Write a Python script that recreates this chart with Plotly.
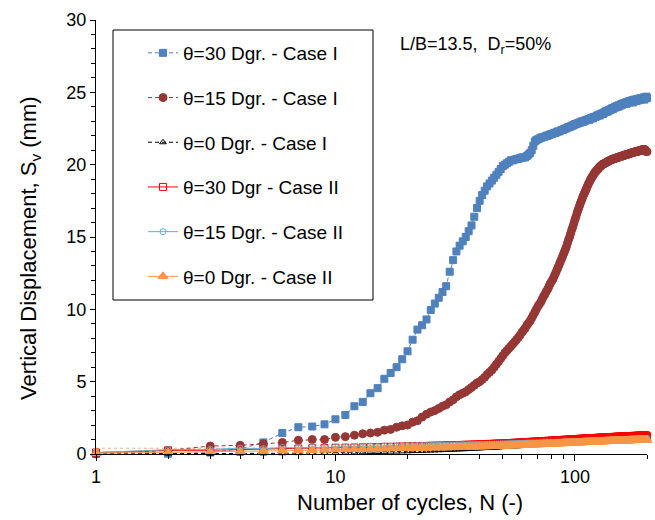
import plotly.graph_objects as go

# Number of cycles
N = list(range(1, 201))

# theta=30 Dgr. - Case I
s30_c1 = [
    0.00, 0.02, 0.10, 0.35, 0.80, 1.45, 1.85, 1.90, 2.05, 2.40,
    2.70, 3.30, 3.60, 4.20, 4.55, 5.20, 5.60, 6.00, 6.55, 7.10,
    7.90, 8.60, 8.90, 9.30, 9.95, 10.40, 10.80, 11.20, 11.60, 12.60,
    13.40, 14.00, 14.40, 14.70, 15.00, 15.40, 15.80, 16.40, 17.00, 17.50,
    17.90, 18.20, 18.50, 18.70, 18.90, 19.10, 19.30, 19.50, 19.70, 19.90,
    20.00, 20.10, 20.20, 20.30, 20.30, 20.35, 20.40, 20.40, 20.45, 20.50,
    20.50, 20.50, 20.60, 20.70, 20.80, 21.00, 21.30, 21.60, 21.70, 21.75,
    21.80, 21.85, 21.90, 21.90, 21.95, 22.00, 22.00, 22.05, 22.10, 22.10,
    22.15, 22.20, 22.20, 22.25, 22.30, 22.30, 22.35, 22.40, 22.40, 22.45,
    22.50, 22.50, 22.55, 22.60, 22.60, 22.65, 22.70, 22.70, 22.75, 22.80,
    22.80, 22.85, 22.85, 22.90, 22.90, 22.95, 23.00, 22.95, 23.00, 23.05,
    23.05, 23.10, 23.10, 23.15, 23.10, 23.20, 23.20, 23.25, 23.20, 23.30,
    23.30, 23.30, 23.35, 23.40, 23.40, 23.45, 23.40, 23.50, 23.50, 23.55,
    23.50, 23.60, 23.60, 23.65, 23.70, 23.65, 23.70, 23.75, 23.80, 23.75,
    23.80, 23.85, 23.90, 23.85, 23.90, 23.95, 24.00, 23.95, 24.00, 24.05,
    24.00, 24.10, 24.05, 24.10, 24.15, 24.10, 24.20, 24.15, 24.20, 24.25,
    24.20, 24.25, 24.30, 24.20, 24.30, 24.35, 24.30, 24.35, 24.40, 24.30,
    24.35, 24.40, 24.45, 24.40, 24.30, 24.45, 24.50, 24.40, 24.45, 24.50,
    24.40, 24.50, 24.55, 24.45, 24.50, 24.55, 24.50, 24.60, 24.50, 24.55,
    24.60, 24.55, 24.60, 24.65, 24.50, 24.60, 24.65, 24.60, 24.70, 24.60,
]

# theta=15 Dgr. - Case I
s15_c1 = [
    0.00, 0.25, 0.55, 0.60, 0.70, 0.80, 0.95, 1.00, 1.00, 1.15,
    1.20, 1.30, 1.40, 1.45, 1.50, 1.65, 1.70, 1.85, 1.95, 2.00,
    2.20, 2.30, 2.55, 2.75, 2.90, 3.00, 3.15, 3.30, 3.40, 3.60,
    3.75, 3.95, 4.10, 4.20, 4.30, 4.45, 4.60, 4.75, 4.90, 5.00,
    5.15, 5.30, 5.50, 5.65, 5.80, 6.00, 6.20, 6.40, 6.60, 6.80,
    7.00, 7.15, 7.30, 7.45, 7.60, 7.75, 7.90, 8.05, 8.20, 8.40,
    8.55, 8.70, 8.90, 9.05, 9.20, 9.40, 9.60, 9.80, 10.00, 10.20,
    10.35, 10.50, 10.70, 10.90, 11.05, 11.25, 11.40, 11.60, 11.80, 11.95,
    12.10, 12.30, 12.50, 12.70, 12.90, 13.10, 13.30, 13.50, 13.70, 13.90,
    14.10, 14.30, 14.55, 14.80, 15.00, 15.25, 15.50, 15.70, 15.95, 16.20,
    16.40, 16.65, 16.85, 17.05, 17.25, 17.45, 17.60, 17.80, 17.95, 18.10,
    18.25, 18.40, 18.55, 18.70, 18.80, 18.95, 19.05, 19.15, 19.25, 19.35,
    19.45, 19.50, 19.60, 19.65, 19.70, 19.80, 19.85, 19.90, 19.95, 20.00,
    20.05, 20.05, 20.10, 20.10, 20.15, 20.20, 20.20, 20.25, 20.25, 20.30,
    20.30, 20.35, 20.35, 20.40, 20.40, 20.40, 20.45, 20.45, 20.45, 20.50,
    20.50, 20.50, 20.55, 20.55, 20.55, 20.60, 20.60, 20.60, 20.60, 20.65,
    20.65, 20.65, 20.70, 20.70, 20.70, 20.70, 20.75, 20.75, 20.75, 20.80,
    20.80, 20.80, 20.80, 20.85, 20.85, 20.85, 20.85, 20.90, 20.90, 20.90,
    20.90, 20.90, 20.95, 20.95, 20.95, 20.95, 21.00, 21.00, 21.00, 21.00,
    21.00, 21.05, 21.05, 21.00, 21.05, 21.05, 21.00, 20.95, 20.90, 20.90,
]

# theta=0 Dgr. - Case I
s0_c1 = [
    0.00, 0.00, 0.02, 0.03, 0.04, 0.05, 0.06, 0.07, 0.08, 0.09,
    0.10, 0.11, 0.12, 0.13, 0.14, 0.15, 0.16, 0.17, 0.18, 0.19,
    0.20, 0.21, 0.22, 0.23, 0.24, 0.25, 0.26, 0.27, 0.28, 0.29,
    0.30, 0.31, 0.32, 0.33, 0.34, 0.35, 0.36, 0.37, 0.38, 0.39,
    0.40, 0.41, 0.42, 0.43, 0.44, 0.44, 0.45, 0.46, 0.47, 0.48,
    0.49, 0.50, 0.50, 0.51, 0.52, 0.53, 0.54, 0.54, 0.55, 0.56,
    0.57, 0.58, 0.58, 0.59, 0.60, 0.61, 0.61, 0.62, 0.63, 0.64,
    0.64, 0.65, 0.66, 0.66, 0.67, 0.68, 0.68, 0.69, 0.70, 0.70,
    0.71, 0.72, 0.72, 0.73, 0.74, 0.74, 0.75, 0.76, 0.76, 0.77,
    0.78, 0.78, 0.79, 0.79, 0.80, 0.81, 0.81, 0.82, 0.82, 0.83,
    0.84, 0.84, 0.85, 0.85, 0.86, 0.86, 0.87, 0.88, 0.88, 0.89,
    0.89, 0.90, 0.90, 0.91, 0.91, 0.92, 0.92, 0.93, 0.93, 0.94,
    0.94, 0.95, 0.95, 0.96, 0.96, 0.97, 0.97, 0.98, 0.98, 0.99,
    0.99, 1.00, 1.00, 1.01, 1.01, 1.02, 1.02, 1.03, 1.03, 1.04,
    1.04, 1.05, 1.05, 1.06, 1.06, 1.07, 1.07, 1.08, 1.08, 1.08,
    1.09, 1.09, 1.10, 1.10, 1.11, 1.11, 1.12, 1.12, 1.12, 1.13,
    1.13, 1.14, 1.14, 1.15, 1.15, 1.15, 1.16, 1.16, 1.17, 1.17,
    1.17, 1.18, 1.18, 1.19, 1.19, 1.19, 1.20, 1.20, 1.21, 1.21,
    1.21, 1.22, 1.22, 1.23, 1.23, 1.23, 1.24, 1.24, 1.25, 1.25,
    1.25, 1.26, 1.26, 1.27, 1.27, 1.27, 1.28, 1.28, 1.29, 1.29,
]

# theta=30 Dgr - Case II
s30_c2 = [
    0.10, 0.25, 0.26, 0.30, 0.33, 0.36, 0.38, 0.40, 0.41, 0.43,
    0.44, 0.45, 0.46, 0.47, 0.48, 0.49, 0.50, 0.51, 0.52, 0.53,
    0.54, 0.55, 0.55, 0.56, 0.57, 0.58, 0.58, 0.59, 0.60, 0.60,
    0.61, 0.62, 0.62, 0.63, 0.64, 0.64, 0.65, 0.66, 0.66, 0.67,
    0.68, 0.68, 0.69, 0.70, 0.70, 0.71, 0.72, 0.72, 0.73, 0.74,
    0.74, 0.75, 0.76, 0.76, 0.77, 0.78, 0.78, 0.79, 0.80, 0.80,
    0.81, 0.82, 0.82, 0.83, 0.84, 0.84, 0.85, 0.86, 0.86, 0.87,
    0.87, 0.88, 0.89, 0.89, 0.90, 0.90, 0.91, 0.92, 0.92, 0.93,
    0.93, 0.94, 0.94, 0.95, 0.95, 0.96, 0.96, 0.97, 0.97, 0.98,
    0.98, 0.99, 0.99, 1.00, 1.00, 1.01, 1.01, 1.02, 1.02, 1.03,
    1.03, 1.03, 1.04, 1.04, 1.05, 1.05, 1.05, 1.06, 1.06, 1.07,
    1.07, 1.07, 1.08, 1.08, 1.08, 1.09, 1.09, 1.09, 1.10, 1.10,
    1.10, 1.11, 1.11, 1.11, 1.12, 1.12, 1.12, 1.13, 1.13, 1.13,
    1.14, 1.14, 1.14, 1.15, 1.15, 1.15, 1.15, 1.16, 1.16, 1.16,
    1.17, 1.17, 1.17, 1.17, 1.18, 1.18, 1.18, 1.18, 1.19, 1.19,
    1.19, 1.19, 1.20, 1.20, 1.20, 1.20, 1.21, 1.21, 1.21, 1.21,
    1.22, 1.22, 1.22, 1.22, 1.22, 1.23, 1.23, 1.23, 1.23, 1.23,
    1.24, 1.24, 1.24, 1.24, 1.24, 1.25, 1.25, 1.25, 1.25, 1.25,
    1.25, 1.26, 1.26, 1.26, 1.26, 1.26, 1.26, 1.27, 1.27, 1.27,
    1.27, 1.27, 1.27, 1.28, 1.28, 1.28, 1.28, 1.28, 1.26, 1.22,
]

# theta=15 Dgr. - Case II
s15_c2 = [
    0.10, 0.30, 0.32, 0.40, 0.38, 0.45, 0.42, 0.48, 0.44, 0.50,
    0.47, 0.52, 0.49, 0.54, 0.51, 0.56, 0.53, 0.57, 0.55, 0.58,
    0.57, 0.59, 0.58, 0.60, 0.59, 0.61, 0.60, 0.62, 0.61, 0.62,
    0.62, 0.63, 0.63, 0.64, 0.63, 0.64, 0.65, 0.64, 0.65, 0.66,
    0.66, 0.66, 0.67, 0.67, 0.67, 0.68, 0.68, 0.68, 0.69, 0.69,
    0.69, 0.70, 0.70, 0.70, 0.71, 0.71, 0.71, 0.72, 0.72, 0.72,
    0.73, 0.73, 0.73, 0.74, 0.74, 0.74, 0.75, 0.75, 0.75, 0.76,
    0.76, 0.76, 0.77, 0.77, 0.77, 0.78, 0.78, 0.78, 0.79, 0.79,
    0.79, 0.80, 0.80, 0.80, 0.81, 0.81, 0.81, 0.82, 0.82, 0.82,
    0.83, 0.83, 0.83, 0.84, 0.84, 0.84, 0.85, 0.85, 0.85, 0.86,
    0.86, 0.86, 0.86, 0.87, 0.87, 0.87, 0.87, 0.88, 0.88, 0.88,
    0.88, 0.89, 0.89, 0.89, 0.89, 0.90, 0.90, 0.90, 0.90, 0.91,
    0.91, 0.91, 0.91, 0.92, 0.92, 0.92, 0.92, 0.93, 0.93, 0.93,
    0.93, 0.94, 0.94, 0.94, 0.94, 0.95, 0.95, 0.95, 0.95, 0.95,
    0.96, 0.96, 0.96, 0.96, 0.96, 0.97, 0.97, 0.97, 0.97, 0.97,
    0.98, 0.98, 0.98, 0.98, 0.98, 0.99, 0.99, 0.99, 0.99, 0.99,
    1.00, 1.00, 1.00, 1.00, 1.00, 1.01, 1.01, 1.01, 1.01, 1.01,
    1.02, 1.02, 1.02, 1.02, 1.02, 1.03, 1.03, 1.03, 1.03, 1.03,
    1.03, 1.04, 1.04, 1.04, 1.04, 1.04, 1.05, 1.05, 1.05, 1.05,
    1.05, 1.05, 1.06, 1.06, 1.06, 1.06, 1.06, 1.06, 1.07, 1.07,
]

# theta=0 Dgr. - Case II
s0_c2 = [
    0.05, 0.10, 0.15, 0.18, 0.20, 0.22, 0.24, 0.26, 0.28, 0.30,
    0.31, 0.32, 0.33, 0.34, 0.35, 0.36, 0.37, 0.38, 0.39, 0.40,
    0.40, 0.41, 0.42, 0.42, 0.43, 0.44, 0.44, 0.45, 0.45, 0.46,
    0.46, 0.47, 0.47, 0.48, 0.48, 0.49, 0.49, 0.50, 0.50, 0.51,
    0.51, 0.52, 0.52, 0.53, 0.53, 0.54, 0.54, 0.55, 0.55, 0.56,
    0.56, 0.57, 0.57, 0.58, 0.58, 0.59, 0.59, 0.60, 0.60, 0.61,
    0.61, 0.62, 0.62, 0.63, 0.63, 0.64, 0.64, 0.65, 0.65, 0.66,
    0.66, 0.67, 0.67, 0.67, 0.68, 0.68, 0.69, 0.69, 0.70, 0.70,
    0.70, 0.71, 0.71, 0.72, 0.72, 0.72, 0.73, 0.73, 0.74, 0.74,
    0.74, 0.75, 0.75, 0.75, 0.76, 0.76, 0.77, 0.77, 0.77, 0.78,
    0.78, 0.78, 0.79, 0.79, 0.79, 0.80, 0.80, 0.80, 0.81, 0.81,
    0.81, 0.82, 0.82, 0.82, 0.82, 0.83, 0.83, 0.83, 0.84, 0.84,
    0.84, 0.84, 0.85, 0.85, 0.85, 0.85, 0.86, 0.86, 0.86, 0.86,
    0.87, 0.87, 0.87, 0.87, 0.88, 0.88, 0.88, 0.88, 0.88, 0.89,
    0.89, 0.89, 0.89, 0.89, 0.90, 0.90, 0.90, 0.90, 0.90, 0.91,
    0.91, 0.91, 0.91, 0.91, 0.91, 0.92, 0.92, 0.92, 0.92, 0.92,
    0.92, 0.93, 0.93, 0.93, 0.93, 0.93, 0.93, 0.94, 0.94, 0.94,
    0.94, 0.94, 0.94, 0.95, 0.95, 0.95, 0.95, 0.95, 0.95, 0.95,
    0.96, 0.96, 0.96, 0.96, 0.96, 0.96, 0.96, 0.97, 0.97, 0.97,
    0.97, 0.97, 0.97, 0.97, 0.98, 0.98, 0.98, 0.98, 0.98, 0.98,
]

# faint dotted reference level (orange) seen along the bottom
ref_N = [1, 20]
ref_level = [0.40, 0.40]

# axis ticks
x_major = [1, 10, 100]
x_major_text = ["1", "10", "100"]
x_minor = [2, 3, 4, 5, 6, 7, 8, 9, 20, 30, 40, 50, 60, 70, 80, 90, 200]

names = ["θ=30 Dgr. - Case I", "θ=15 Dgr. - Case I", "θ=0 Dgr. - Case I",
         "θ=30 Dgr - Case II", "θ=15 Dgr. - Case II", "θ=0 Dgr. - Case II"]

FONT = "Arial, Liberation Sans, sans-serif"
fig = go.Figure()

fig.add_trace(go.Scatter(x=ref_N, y=ref_level, mode="lines", showlegend=False,
                         line=dict(color="#F9B27A", width=1, dash="dot"), hoverinfo="skip"))

styles = [
    (s30_c1, "#4F81BD", "square", 7, "4px,3px"),
    (s15_c1, "#953735", "circle", 8, "4px,3px"),
    (s0_c1, "#000000", "triangle-up-open", 6, "4px,3px"),
    (s30_c2, "#FF0000", "square-open", 7, "solid"),
    (s15_c2, "#5FB3CD", "circle-open", 6, "solid"),
    (s0_c2, "#F79646", "triangle-up", 9, "solid"),
]
for i, (ys, col, sym, sz, dash) in enumerate(styles):
    fig.add_trace(go.Scatter(
        x=N, y=ys, name=names[i], mode="lines+markers", legendgroup=f"g{i}",
        line=dict(color=col, width=1, dash=dash),
        marker=dict(symbol=sym, size=sz, color=col, line=dict(color=col, width=1)),
        cliponaxis=False,
    ))

# legend frame
fig.add_shape(type="rect", xref="paper", yref="paper",
              x0=(113 - 96) / 551, x1=(373 - 96) / 551,
              y0=(454 - 300) / 434, y1=(454 - 30) / 434,
              line=dict(color="black", width=1), fillcolor="white", layer="below")

fig.add_annotation(xref="paper", yref="paper", x=(398 - 96) / 551, y=(454 - 46) / 434,
                   xanchor="left", yanchor="middle", showarrow=False,
                   text="L/B=13.5,  D<sub>r</sub>=50%", font=dict(size=18, color="black", family=FONT))

# axis titles (positioned like the reference, centred on the chart area)
fig.add_annotation(xref="paper", yref="paper", x=(410 - 96) / 551, y=(454 - 503) / 434,
                   xanchor="center", yanchor="middle", showarrow=False,
                   text="Number of cycles, N (-)", font=dict(size=22, color="black", family=FONT))
fig.add_annotation(xref="paper", yref="paper", x=(30 - 96) / 551, y=(454 - 248) / 434,
                   xanchor="center", yanchor="middle", showarrow=False, textangle=-90,
                   text="Vertical Displacement, S<sub>v</sub> (mm)",
                   font=dict(size=22, color="black", family=FONT))

fig.update_layout(
    width=655, height=520,
    margin=dict(l=96, r=8, t=20, b=66),
    plot_bgcolor="white", paper_bgcolor="white",
    font=dict(family=FONT, color="black", size=16),
    legend=dict(x=(143 - 96) / 551, y=(454 - 34) / 434, xanchor="left", yanchor="top",
                bgcolor="rgba(0,0,0,0)", borderwidth=0, traceorder="grouped",
                tracegroupgap=17, font=dict(size=19, family=FONT, color="black")),
    xaxis=dict(type="log", range=[0, 2.30103], showline=True, linecolor="black",
               linewidth=1, ticks="outside", ticklen=6, tickcolor="black",
               tickvals=x_major, ticktext=x_major_text,
               showgrid=False, zeroline=False,
               tickfont=dict(size=18, family=FONT, color="black"),
               minor=dict(tickvals=x_minor, ticks="outside", ticklen=4,
                          tickcolor="black", showgrid=False)),
    yaxis=dict(range=[0, 30], dtick=5, showline=True, linecolor="black", linewidth=1,
               ticks="outside", ticklen=5, tickcolor="black", showgrid=False, zeroline=False,
               tickfont=dict(size=18, family=FONT, color="black"),
               minor=dict(dtick=1, ticks="outside", ticklen=4, tickcolor="black", showgrid=False)),
)

fig.write_html("out.html")
